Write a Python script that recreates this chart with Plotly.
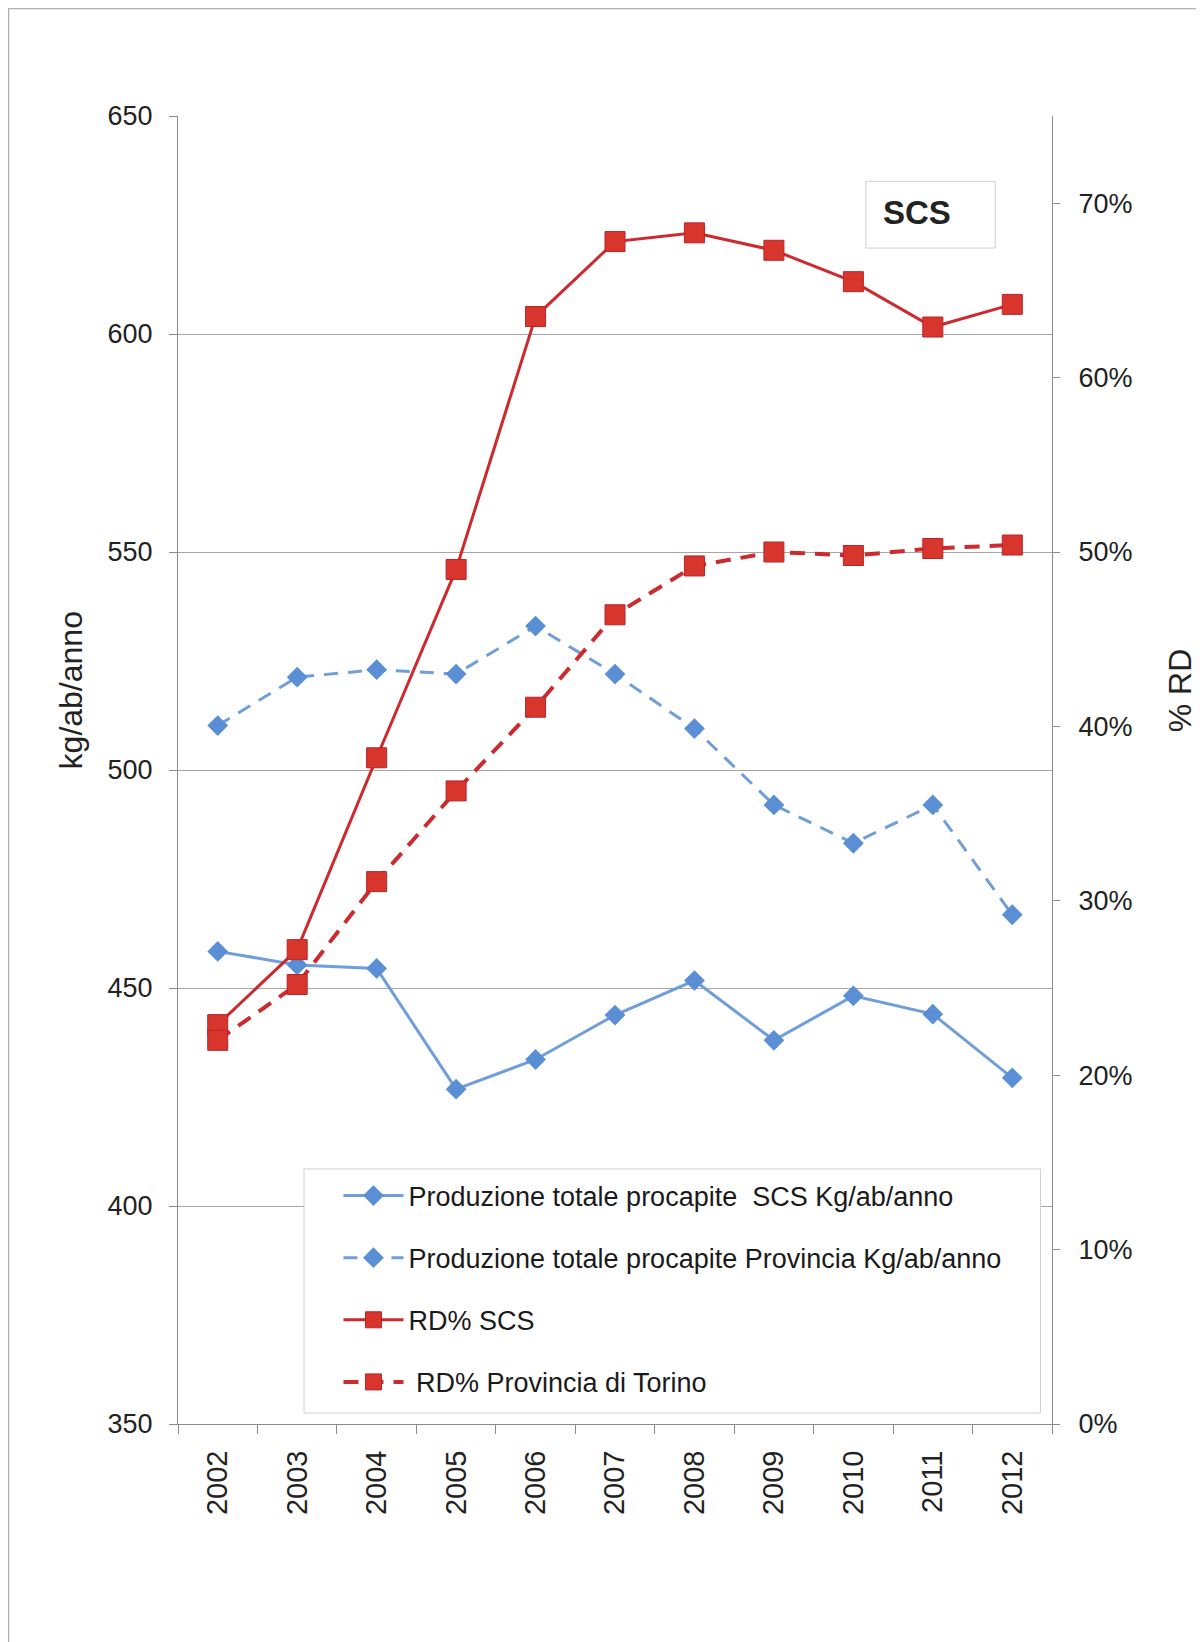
import plotly.graph_objects as go

years = ["2002", "2003", "2004", "2005", "2006", "2007", "2008", "2009", "2010", "2011", "2012"]
prod_scs = [458.4, 455.3, 454.5, 426.8, 433.6, 443.8, 451.7, 438.0, 448.2, 444.0, 429.4]
prod_prov = [510.2, 521.3, 523.0, 522.0, 533.0, 522.0, 509.5, 492.0, 483.2, 492.0, 466.8]
rd_scs = [0.229, 0.272, 0.382, 0.490, 0.635, 0.678, 0.683, 0.673, 0.655, 0.629, 0.642]
rd_prov = [0.220, 0.252, 0.311, 0.363, 0.411, 0.464, 0.492, 0.500, 0.498, 0.502, 0.504]

names = [
    "Produzione totale procapite  SCS Kg/ab/anno",
    "Produzione totale procapite Provincia Kg/ab/anno",
    "RD% SCS",
    " RD% Provincia di Torino",
]

BLUE_LINE = "#6F9ED9"
BLUE_MK = "#5A8FD5"
RED_LINE = "#CC2A2E"
RED_MK = "#D8352C"

fig = go.Figure()
fig.add_trace(go.Scatter(
    x=years, y=prod_scs, name=names[0], mode="lines+markers", legendgroup="a",
    line=dict(color=BLUE_LINE, width=3),
    marker=dict(symbol="diamond", size=16, color=BLUE_MK),
))
fig.add_trace(go.Scatter(
    x=years, y=prod_prov, name=names[1], mode="lines+markers", legendgroup="b",
    line=dict(color=BLUE_LINE, width=3, dash="14px,10px"),
    marker=dict(symbol="diamond", size=16, color=BLUE_MK),
))
fig.add_trace(go.Scatter(
    x=years, y=rd_scs, name=names[2], mode="lines+markers", yaxis="y2", legendgroup="c",
    line=dict(color=RED_LINE, width=3),
    marker=dict(symbol="square", size=20, color=RED_MK, line=dict(color="#B8242A", width=1)),
))
fig.add_trace(go.Scatter(
    x=years, y=rd_prov, name=names[3], mode="lines+markers", yaxis="y2", legendgroup="d",
    line=dict(color=RED_LINE, width=4, dash="15px,10px"),
    marker=dict(symbol="square", size=20, color=RED_MK, line=dict(color="#B8242A", width=1)),
))

FONT = "Liberation Sans, Arial, sans-serif"
TICK = dict(family=FONT, size=27, color="#222222")

fig.update_layout(
    width=1196, height=1634,
    margin=dict(l=170, r=152, t=108, b=218),
    paper_bgcolor="white", plot_bgcolor="white",
    font=dict(family=FONT, color="#222222"),
    showlegend=True,
    legend=dict(
        x=0.1836, y=0.193, xanchor="left", yanchor="top",
        bgcolor="rgba(0,0,0,0)", borderwidth=0,
        font=dict(family=FONT, size=27, color="#1a1a1a"),
        tracegroupgap=24, itemwidth=60,
    ),
    xaxis=dict(
        type="category", range=[-0.5, 10.5],
        showline=True, linecolor="#8c8c8c", linewidth=1,
        ticks="outside", tickson="boundaries", ticklen=9, tickcolor="#8c8c8c",
        tickangle=-90, tickfont=dict(family=FONT, size=29, color="#222222"), ticklabelstandoff=14,
        showgrid=False, zeroline=False,
    ),
    yaxis=dict(
        range=[350, 650], dtick=50, tick0=350,
        showline=True, linecolor="#8c8c8c", linewidth=1,
        ticks="outside", ticklen=8, tickcolor="#8c8c8c",
        tickfont=TICK, ticklabelstandoff=11,
        showgrid=True, gridcolor="#a6a6a6", gridwidth=1, zeroline=False,
    ),
    yaxis2=dict(
        overlaying="y", side="right", range=[0, 0.75], dtick=0.1, tick0=0,
        tickformat=".0%",
        showline=True, linecolor="#8c8c8c", linewidth=1,
        ticks="outside", ticklen=7, tickcolor="#8c8c8c",
        tickfont=TICK, ticklabelstandoff=13,
        showgrid=False, zeroline=False,
    ),
    shapes=[
        # outer frame
        dict(type="rect", xref="paper", yref="paper", x0=-0.1939, x1=1.25, y0=-0.25, y1=1.0822,
             line=dict(color="#b0b0b0", width=1.5), fillcolor="rgba(0,0,0,0)", layer="below"),
        # legend box
        dict(type="rect", xref="paper", yref="paper", x0=0.1442, x1=0.9868, y0=0.0084, y1=0.195,
             line=dict(color="#d0d0d0", width=1), fillcolor="white", layer="above"),
        # SCS box
        dict(type="rect", xref="paper", yref="paper", x0=0.787, x1=0.935, y0=0.899, y1=0.950,
             line=dict(color="#d0d0d0", width=1), fillcolor="white", layer="above"),
    ],
    annotations=[
        dict(text="<b>SCS</b>", xref="paper", yref="paper", x=0.8455, y=0.9266, showarrow=False,
             font=dict(family=FONT, size=33, color="#222222"), xanchor="center", yanchor="middle"),
        dict(text="kg/ab/anno", xref="paper", yref="paper", x=-0.1222, y=0.561, showarrow=False,
             textangle=-90, font=dict(family=FONT, size=32, color="#222222"),
             xanchor="center", yanchor="middle"),
        dict(text="% RD", xref="paper", yref="paper", x=1.1465, y=0.561, showarrow=False,
             textangle=-90, font=dict(family=FONT, size=32, color="#222222"),
             xanchor="center", yanchor="middle"),
    ],
)

fig.write_html("out.html")
